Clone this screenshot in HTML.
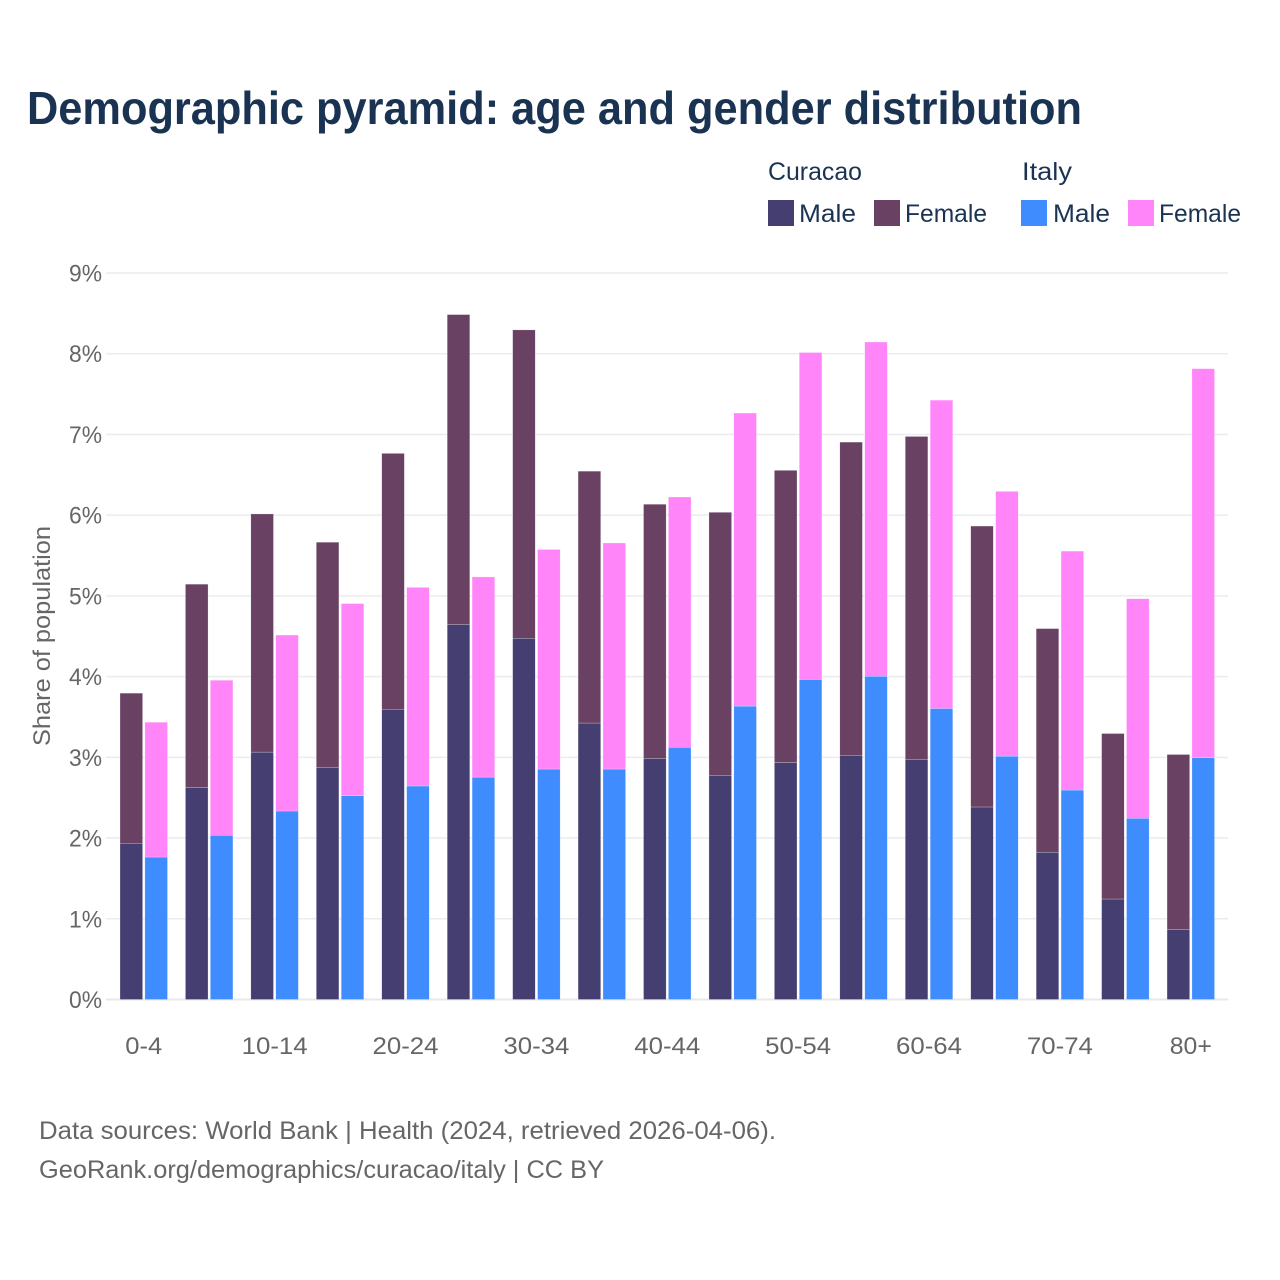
<!DOCTYPE html>
<html lang="en">
<head>
<meta charset="utf-8">
<title>Demographic pyramid: age and gender distribution</title>
<style>
  html, body { margin: 0; padding: 0; background: #ffffff; }
  svg { display: block; font-family: "Liberation Sans", "DejaVu Sans", sans-serif; }
</style>
</head>
<body>
<svg id="chart" xmlns="http://www.w3.org/2000/svg" width="1280" height="1280" viewBox="0 0 1280 1280">
  <rect x="0" y="0" width="1280" height="1280" fill="#ffffff"/>
  <text x="27" y="124" font-size="46" font-weight="700" fill="#1a3352" textLength="1055" lengthAdjust="spacingAndGlyphs">Demographic pyramid: age and gender distribution</text>

  <g font-size="25" fill="#1a3352">
    <text x="768" y="180" textLength="94" lengthAdjust="spacingAndGlyphs">Curacao</text>
    <text x="1022" y="180" textLength="50" lengthAdjust="spacingAndGlyphs">Italy</text>
    <g>
      <rect x="768" y="200" width="26" height="26" fill="#443f70"/>
      <text x="799" y="222" textLength="57" lengthAdjust="spacingAndGlyphs">Male</text>
    </g>
    <g>
      <rect x="874" y="200" width="26" height="26" fill="#694163"/>
      <text x="905" y="222" textLength="82" lengthAdjust="spacingAndGlyphs">Female</text>
    </g>
    <g>
      <rect x="1021" y="200" width="26" height="26" fill="#3f8cff"/>
      <text x="1053" y="222" textLength="57" lengthAdjust="spacingAndGlyphs">Male</text>
    </g>
    <g>
      <rect x="1128" y="200" width="26" height="26" fill="#ff85f9"/>
      <text x="1159" y="222" textLength="82" lengthAdjust="spacingAndGlyphs">Female</text>
    </g>
  </g>

  <g id="grid"></g>
  <g id="y-ticks"></g>
  <g id="bars"></g>
  <g id="x-ticks"></g>

  <text transform="translate(50 636) rotate(-90)" text-anchor="middle" font-size="24" fill="#666666" textLength="220" lengthAdjust="spacingAndGlyphs">Share of population</text>

  <text x="39" y="1139" font-size="25" fill="#666666" textLength="737" lengthAdjust="spacingAndGlyphs">Data sources: World Bank | Health (2024, retrieved 2026-04-06).</text>
  <text x="39" y="1178" font-size="25" fill="#666666" textLength="565" lengthAdjust="spacingAndGlyphs">GeoRank.org/demographics/curacao/italy | CC BY</text>
</svg>

<script>
const categories = ["0-4","5-9","10-14","15-19","20-24","25-29","30-34","35-39","40-44","45-49","50-54","55-59","60-64","65-69","70-74","75-79","80+"];
const curacaoMale = [1.94,2.63,3.07,2.88,3.60,4.65,4.48,3.43,2.99,2.78,2.94,3.03,2.98,2.39,1.83,1.25,0.87];
const curacaoFemale = [1.86,2.52,2.95,2.79,3.17,3.84,3.82,3.12,3.15,3.26,3.62,3.88,4.00,3.48,2.77,2.05,2.17];
const italyMale = [1.77,2.04,2.34,2.53,2.65,2.76,2.86,2.86,3.13,3.64,3.97,4.01,3.61,3.02,2.60,2.25,3.00];
const italyFemale = [1.67,1.92,2.18,2.38,2.46,2.48,2.72,2.80,3.10,3.63,4.05,4.14,3.82,3.28,2.96,2.72,4.82];
const yTicks = [0,1,2,3,4,5,6,7,8,9];

const SVG_NS = "http://www.w3.org/2000/svg";
const plotLeft = 106, plotRight = 1228;
const yZero = 999.5, yNine = 273;
const firstBarX = 120, groupStep = 65.44, barWidth = 22.6, barGap = 24.9;
const barNudge = 0.4;

function yScale(v) { return yZero - (v / 9) * (yZero - yNine); }
function xScale(i, slot) { return firstBarX + groupStep * i + slot * barGap; }
function xCenter(i) { return firstBarX + groupStep * i + (barGap + barWidth) / 2; }

function make(tag, attrs, parent) {
  const el = document.createElementNS(SVG_NS, tag);
  for (const k in attrs) el.setAttribute(k, attrs[k]);
  parent.appendChild(el);
  return el;
}

const gridGroup = document.getElementById("grid");
const yTickGroup = document.getElementById("y-ticks");
const barGroup = document.getElementById("bars");
const xTickGroup = document.getElementById("x-ticks");

yTicks.forEach(function (t) {
  const line = make("line", {
    x1: plotLeft, x2: plotRight, y1: yScale(t), y2: yScale(t),
    stroke: t === 0 ? "#e8e8e8" : "#ececec", "stroke-width": t === 0 ? 2 : 1.5
  }, gridGroup);
  
  

  const label = make("text", {
    x: 102, y: yScale(t) + 8.5, "text-anchor": "end", "font-size": 24,
    fill: "#666666", textLength: 33, lengthAdjust: "spacingAndGlyphs"
  }, yTickGroup);
  label.textContent = t + "%";
  
  
});

function drawSegment(i, slot, base, value, color) {
  const top = yScale(base + value) + barNudge;
  const bottom = base === 0 ? yScale(0) : yScale(base) + barNudge;
  const rect = make("rect", {
    x: xScale(i, slot), y: top, width: barWidth, height: bottom - top,
    fill: color, stroke: "#ffffff", "stroke-width": 0.4, "stroke-opacity": 0.6
  }, barGroup);
  return rect;
}

categories.forEach(function (cat, i) {
  const a = drawSegment(i, 0, 0, curacaoMale[i], "#443f70");
  
  

  const b = drawSegment(i, 0, curacaoMale[i], curacaoFemale[i], "#694163");
  
  

  const c = drawSegment(i, 1, 0, italyMale[i], "#3f8cff");
  
  

  const d = drawSegment(i, 1, italyMale[i], italyFemale[i], "#ff85f9");
  
  

  if (i % 2 === 0) {
    const tick = make("text", {
      x: xCenter(i), y: 1054, "text-anchor": "middle", "font-size": 24, fill: "#666666",
      textLength: cat.length === 3 ? (cat === "80+" ? 42 : 37) : 66,
      lengthAdjust: "spacingAndGlyphs"
    }, xTickGroup);
    tick.textContent = cat;
    
    
  }
});
</script>
</body>
</html>
